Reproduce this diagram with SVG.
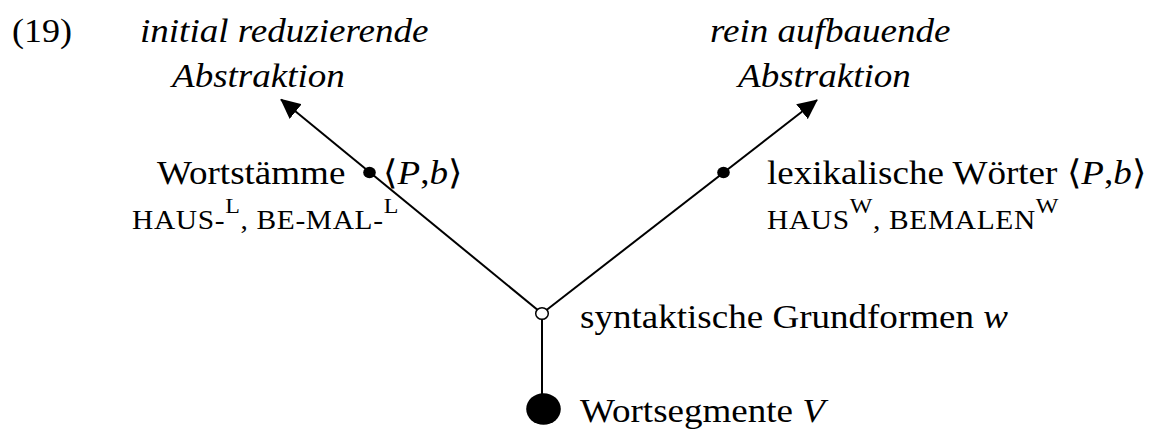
<svg xmlns="http://www.w3.org/2000/svg" width="1149" height="430" viewBox="0 0 1149 430">
<defs>
<style>
text{font-family:"Liberation Serif","Times New Roman",serif;font-size:34px;fill:#000}
.it{font-style:italic}
.sc{font-size:27px;letter-spacing:0.6px}
.sup{font-size:22px}
.ln{stroke:#000;stroke-width:2;fill:none}
</style>
<marker id="ah" viewBox="0 0 20 19" refX="19" refY="9.5" markerWidth="20" markerHeight="19" markerUnits="userSpaceOnUse" orient="auto">
<path d="M0,0 L20,9.5 L0,19 Z" fill="#000"/>
</marker>
</defs>
<rect width="1149" height="430" fill="#fff"/>
<g id="connectors">
<line class="ln" x1="542" y1="313.5" x2="281" y2="99.5" marker-end="url(#ah)"/>
<line class="ln" x1="542" y1="313.5" x2="817" y2="100" marker-end="url(#ah)"/>
<line class="ln" x1="542" y1="313.5" x2="542" y2="395"/>
</g>
<g id="label19"><text transform="translate(12 42) scale(1.06 1)">(19)</text></g>
<g id="initial">
<text class="it" transform="translate(140 42) scale(1.09 1)">initial reduzierende</text>
<text class="it" transform="translate(172 87) scale(1.09 1)">Abstraktion</text>
</g>
<g id="aufbauend">
<text class="it" transform="translate(710 42) scale(1.09 1)">rein aufbauende</text>
<text class="it" transform="translate(738 87) scale(1.09 1)">Abstraktion</text>
</g>
<g id="wortstaemme">
<ellipse cx="369.5" cy="172.5" rx="6.3" ry="5.8" fill="#000"/>
<text transform="translate(157 184) scale(1.09 1)">Wortstämme</text>
<text transform="translate(383 184) scale(1.09 1)">⟨<tspan class="it">P</tspan>,<tspan class="it">b</tspan>⟩</text>
<text class="sc" transform="translate(132 229) scale(1.09 1)">HAUS-<tspan class="sup" dy="-16">L</tspan><tspan dy="16">, BE-MAL-</tspan><tspan class="sup" dy="-16">L</tspan></text>
</g>
<g id="lexikalisch">
<ellipse cx="723.5" cy="172.5" rx="6.3" ry="5.8" fill="#000"/>
<text transform="translate(767 184) scale(1.09 1)">lexikalische Wörter ⟨<tspan class="it">P</tspan>,<tspan class="it">b</tspan>⟩</text>
<text class="sc" transform="translate(767 229) scale(1.09 1)">HAUS<tspan class="sup" dy="-16">W</tspan><tspan dy="16">, BEMALEN</tspan><tspan class="sup" dy="-16">W</tspan></text>
</g>
<g id="syntaktisch">
<ellipse cx="542" cy="313.5" rx="6.3" ry="5.8" fill="#fff" stroke="#000" stroke-width="1.5"/>
<text transform="translate(580 328) scale(1.09 1)">syntaktische Grundformen <tspan class="it">w</tspan></text>
</g>
<g id="wortsegmente">
<ellipse cx="543.5" cy="409" rx="17.3" ry="15.8" fill="#000"/>
<text transform="translate(580 422) scale(1.09 1)">Wortsegmente <tspan class="it">V</tspan></text>
</g>
</svg>
